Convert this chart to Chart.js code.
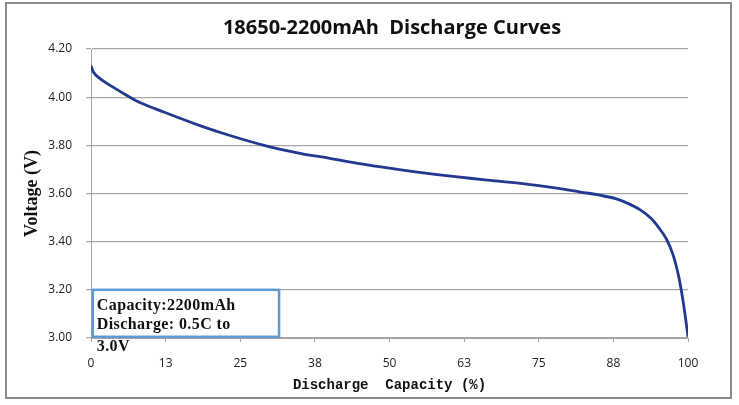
<!DOCTYPE html>
<html>
<head>
<meta charset="utf-8">
<script src="https://cdn.jsdelivr.net/npm/chart.js@4/dist/chart.umd.min.js"></script>
<style>
html,body{margin:0;padding:0;background:#fff;}
#wrap{width:739px;height:405px;position:relative;}
</style>
</head>
<body>
<div id="wrap"><canvas id="c" width="739" height="405"></canvas></div>
<script>
const chartTitle = "18650-2200mAh  Discharge Curves";
const xTitle = "Discharge  Capacity (%)";
const yTitle = "Voltage (V)";
const noteLines = ["Capacity:2200mAh", "Discharge: 0.5C to", "3.0V"];

// Discharge capacity (%) and voltage (V)
const capacity = [0, 0.4, 1.2, 2.6, 5, 8, 12, 18, 23, 29, 35, 40, 45, 50, 55, 61, 66, 72, 78, 82, 85, 88, 90, 92, 93.8, 95.2, 96.4, 97.5, 98.4, 99.1, 99.6, 100];
const voltage  = [4.13, 4.105, 4.083, 4.058, 4.022, 3.98, 3.94, 3.884, 3.843, 3.80, 3.767, 3.746, 3.724, 3.705, 3.688, 3.67, 3.657, 3.642, 3.622, 3.606, 3.594, 3.578, 3.558, 3.532, 3.497, 3.455, 3.41, 3.345, 3.26, 3.165, 3.08, 3.005];

const xMin = 0, xMax = 100, xStep = 12.5;
const yMin = 3.0, yMax = 4.2, yStep = 0.2;

const points = capacity.map((c, i) => ({x: c, y: voltage[i]}));

const framePlugin = {
  id: 'frame',
  beforeDraw(chart) {
    const ctx = chart.ctx;
    ctx.save();
    ctx.fillStyle = '#ffffff';
    ctx.fillRect(0, 0, chart.width, chart.height);
    ctx.strokeStyle = '#8c8c8c';
    ctx.lineWidth = 2;
    ctx.strokeRect(6, 3, 725, 395);
    ctx.fillStyle = '#111';
    ctx.font = 'bold 20px "Open Sans", sans-serif';
    ctx.textAlign = 'center';
    ctx.textBaseline = 'middle';
    ctx.fillText(chartTitle, 392, 28);
    ctx.restore();
  },
  afterDraw(chart) {
    const ctx = chart.ctx;
    const xs = chart.scales.x, ys = chart.scales.y;
    const x0 = xs.getPixelForValue(0.3), x1 = xs.getPixelForValue(31.5);
    const y0 = ys.getPixelForValue(3.20), y1 = ys.getPixelForValue(3.005);
    ctx.save();
    ctx.fillStyle = '#ffffff';
    ctx.fillRect(x0, y0, x1 - x0, y1 - y0);
    ctx.strokeStyle = '#5b9bd5';
    ctx.lineWidth = 2.5;
    ctx.strokeRect(x0, y0, x1 - x0, y1 - y0);
    ctx.fillStyle = '#111';
    ctx.font = 'bold 16px "Liberation Serif", "Times New Roman", serif';
    try { ctx.letterSpacing = '0.4px'; } catch (e) {}
    ctx.textBaseline = 'middle';
    ctx.textAlign = 'left';
    ctx.fillText(noteLines[0], x0 + 4, y0 + 16);
    ctx.fillText(noteLines[1], x0 + 4, y0 + 35);
    ctx.fillText(noteLines[2], x0 + 4, y0 + 57);
    ctx.restore();
  }
};

new Chart(document.getElementById('c'), {
  type: 'line',
  data: {
    datasets: [{
      data: points,
      borderColor: '#1f3a8f',
      borderWidth: 2.8,
      pointRadius: 0,
      fill: false,
      tension: 0.35
    }]
  },
  options: {
    responsive: false,
    animation: false,
    layout: {padding: {left: 8, right: 51, top: 49, bottom: 8}},
    plugins: {
      legend: {display: false},
      tooltip: {enabled: false},
      title: {display: false}
    },
    scales: {
      x: {
        type: 'linear',
        min: xMin, max: xMax,
        afterFit(s) { s.height = 59; },
        afterBuildTicks(s) {
          const t = [];
          for (let v = xMin; v <= xMax + 1e-9; v += xStep) t.push({value: v});
          s.ticks = t;
        },
        ticks: {
          autoSkip: false,
          maxRotation: 0,
          padding: 14,
          color: '#222',
          font: {family: '"Open Sans", sans-serif', size: 12},
          callback: v => String(Math.round(v))
        },
        grid: {display: true, drawOnChartArea: false, drawTicks: true, tickLength: 4, color: '#a6a6a6'},
        border: {display: true, color: '#a6a6a6', width: 1},
        title: {
          display: true,
          text: xTitle,
          color: '#111',
          font: {family: '"Liberation Mono", "DejaVu Sans Mono", monospace', size: 14, weight: 'bold'},
          padding: {top: 0, bottom: 3}
        }
      },
      y: {
        type: 'linear',
        min: yMin, max: yMax,
        afterFit(s) { s.width = 83; },
        afterBuildTicks(s) {
          const t = [];
          for (let i = 0; i <= Math.round((yMax - yMin) / yStep); i++) t.push({value: +(yMin + i * yStep).toFixed(2)});
          s.ticks = t;
        },
        ticks: {
          padding: 14,
          color: '#222',
          font: {family: '"Open Sans", sans-serif', size: 12},
          callback: v => Number(v).toFixed(2)
        },
        grid: {color: '#a6a6a6', lineWidth: 1.2, drawTicks: true, tickLength: 5},
        border: {display: true, color: '#a6a6a6', width: 1},
        title: {
          display: true,
          text: yTitle,
          color: '#111',
          font: {family: '"Liberation Serif", "Times New Roman", serif', size: 18, weight: 'bold'},
          padding: {top: 14, bottom: 0}
        }
      }
    }
  },
  plugins: [framePlugin]
});
</script>
</body>
</html>
